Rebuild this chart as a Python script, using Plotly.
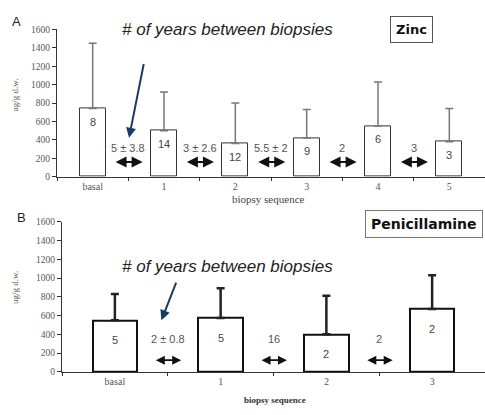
import plotly.graph_objects as go

# Panel A: zinc therapy
zinc_cats = ["basal", "1", "2", "3", "4", "5"]
zinc_mean = [740, 500, 360, 420, 550, 380]
zinc_sd = [710, 420, 440, 310, 480, 360]
zinc_n = ["8", "14", "12", "9", "6", "3"]
zinc_gaps = ["5 \u00b1 3.8", "3 \u00b1 2.6", "5.5 \u00b1 2", "2", "3"]

# Panel B: penicillamine therapy
pen_cats = ["basal", "1", "2", "3"]
pen_mean = [550, 575, 400, 670]
pen_sd = [280, 315, 410, 360]
pen_n = ["5", "5", "2", "2"]
pen_gaps = ["2 \u00b1 0.8", "16", "2"]

W, H = 485, 415
SERIF = "Liberation Serif"
SANS = "Liberation Sans"


def px_x(p):
    return p / W


def px_y(p):
    return 1 - p / H


fig = go.Figure()

fig.add_trace(go.Bar(
    x=zinc_cats, y=zinc_mean, xaxis="x", yaxis="y", width=0.36,
    marker=dict(color="white", line=dict(color="#333333", width=1)),
    error_y=dict(type="data", symmetric=False, array=zinc_sd,
                 arrayminus=[0] * len(zinc_sd), color="#777777",
                 thickness=1.5, width=4),
    showlegend=False, hoverinfo="skip",
))
fig.add_trace(go.Bar(
    x=pen_cats, y=pen_mean, xaxis="x2", yaxis="y2", width=0.42,
    marker=dict(color="white", line=dict(color="#111111", width=2)),
    error_y=dict(type="data", symmetric=False, array=pen_sd,
                 arrayminus=[0] * len(pen_sd), color="#222222",
                 thickness=2.5, width=4),
    showlegend=False, hoverinfo="skip",
))

ann = []

# sample counts inside the bars
for i, (v, n) in enumerate(zip(zinc_mean, zinc_n)):
    ann.append(dict(x=i, y=v, xref="x", yref="y", text=n, showarrow=False,
                    xanchor="center", yanchor="top", yshift=-5,
                    font=dict(family=SANS, size=11, color="#444444")))
for i, (v, n) in enumerate(zip(pen_mean, pen_n)):
    ann.append(dict(x=i, y=v, xref="x2", yref="y2", text=n, showarrow=False,
                    xanchor="center", yanchor="top", yshift=-12,
                    font=dict(family=SANS, size=11, color="#444444")))

# interval between biopsies with double-headed arrows
for i, t in enumerate(zinc_gaps):
    b = i + 0.5
    ann.append(dict(x=b, y=307, xref="x", yref="y", text=t, showarrow=False,
                    xanchor="center",
                    font=dict(family=SANS, size=11, color="#555555")))
    ann.append(dict(x=b + 0.2, y=159, ax=b - 0.2, ay=159, xref="x", yref="y",
                    axref="x", ayref="y", text="", showarrow=True,
                    arrowhead=2, startarrowhead=2, arrowside="end+start",
                    arrowwidth=2, arrowsize=1.1, startarrowsize=1.1,
                    arrowcolor="#111111"))
for i, t in enumerate(pen_gaps):
    b = i + 0.5
    ann.append(dict(x=b, y=353, xref="x2", yref="y2", text=t, showarrow=False,
                    xanchor="center",
                    font=dict(family=SANS, size=11, color="#555555")))
    ann.append(dict(x=b + 0.127, y=125, ax=b - 0.127, ay=125, xref="x2", yref="y2",
                    axref="x2", ayref="y2", text="", showarrow=True,
                    arrowhead=2, startarrowhead=2, arrowside="end+start",
                    arrowwidth=1.8, arrowsize=1, startarrowsize=1,
                    arrowcolor="#111111"))

# pointer arrows
ann.append(dict(x=0.51, y=424, ax=0.72, ay=1240, xref="x", yref="y",
                axref="x", ayref="y", text="", showarrow=True, arrowhead=2,
                arrowwidth=2, arrowsize=1, arrowcolor="#1c3a66"))
ann.append(dict(x=0.44, y=551, ax=0.585, ay=966, xref="x2", yref="y2",
                axref="x2", ayref="y2", text="", showarrow=True, arrowhead=2,
                arrowwidth=2, arrowsize=1, arrowcolor="#1c3a66"))

# headings
for yc in (25, 268):
    ann.append(dict(x=px_x(227), y=px_y(yc), xref="paper", yref="paper",
                    xanchor="center", yanchor="middle",
                    text="<i># of years between biopsies</i>", showarrow=False,
                    font=dict(family=SANS, size=17, color="#222222")))

ann.append(dict(x=px_x(411.5), y=px_y(25), xref="paper", yref="paper",
                xanchor="center", yanchor="middle",
                text="<b>Zinc</b>", showarrow=False, bordercolor="#555555",
                borderwidth=1, borderpad=5, bgcolor="white",
                font=dict(family="DejaVu Sans", size=13, color="#111111")))
ann.append(dict(x=px_x(423.5), y=px_y(224.5), xref="paper", yref="paper",
                xanchor="center", yanchor="middle",
                text="<b>Penicillamine</b>", showarrow=False, bordercolor="#777777",
                borderwidth=1, borderpad=5, bgcolor="white",
                font=dict(family="DejaVu Sans", size=14, color="#111111")))

ann.append(dict(x=px_x(16), y=px_y(17), xref="paper", yref="paper", text="A",
                xanchor="center", yanchor="middle",
                showarrow=False, font=dict(family=SANS, size=13, color="#222222")))
ann.append(dict(x=px_x(21), y=px_y(218), xref="paper", yref="paper", text="B",
                xanchor="center", yanchor="middle",
                showarrow=False, font=dict(family=SANS, size=13, color="#222222")))

# axis titles
ann.append(dict(x=px_x(268), y=px_y(199), xref="paper", yref="paper",
                xanchor="center", yanchor="middle",
                text="biopsy sequence", showarrow=False,
                font=dict(family=SERIF, size=11, color="#444444")))
ann.append(dict(x=px_x(275), y=px_y(405), xref="paper", yref="paper",
                xanchor="center", yanchor="middle",
                text="<b>biopsy sequence</b>", showarrow=False,
                font=dict(family=SERIF, size=9, color="#333333")))
for yc in (93, 290):
    ann.append(dict(x=px_x(15), y=px_y(yc), xref="paper", yref="paper",
                    xanchor="center", yanchor="middle",
                    text="ug/g d.w.", showarrow=False, textangle=-90,
                    font=dict(family=SERIF, size=9, color="#555555")))

xcommon = dict(type="category", showline=True, linecolor="#333333", linewidth=1,
               ticks="outside", ticklen=3, tickcolor="#333333",
               tickson="boundaries", showgrid=False, zeroline=False,
               tickfont=dict(family=SERIF, size=10, color="#555555"), fixedrange=True)
ycommon = dict(range=[0, 1600], dtick=200, showline=True, linecolor="#333333",
               linewidth=1, ticks="outside", ticklen=4, tickcolor="#333333",
               showgrid=False, zeroline=False,
               tickfont=dict(family=SERIF, size=9.5, color="#555555"), fixedrange=True)

fig.update_layout(
    width=W, height=H, margin=dict(l=0, r=0, t=0, b=0),
    paper_bgcolor="white", plot_bgcolor="white",
    xaxis=dict(xcommon, domain=[px_x(57), 1], range=[-0.5, 5.5], anchor="y"),
    yaxis=dict(ycommon, domain=[px_y(176), px_y(25)], anchor="x"),
    xaxis2=dict(xcommon, domain=[px_x(62), 1], range=[-0.5, 3.5], anchor="y2"),
    yaxis2=dict(ycommon, domain=[px_y(376), px_y(222)], anchor="x2"),
    annotations=ann,
    bargap=0,
)

fig.write_html("out.html")
